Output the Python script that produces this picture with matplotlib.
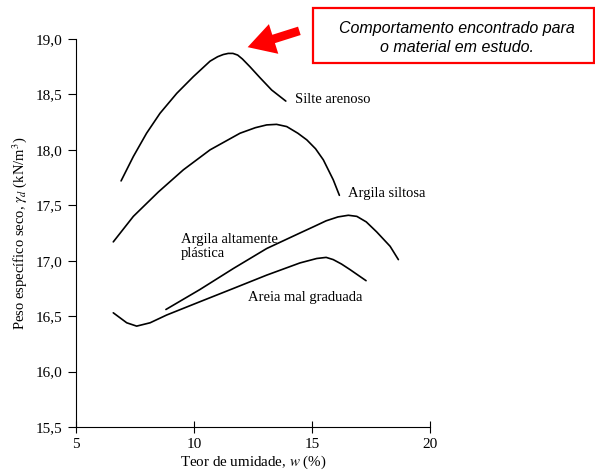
import matplotlib
matplotlib.use("Agg")
import matplotlib.pyplot as plt
from matplotlib.patches import Rectangle, FancyArrowPatch
from matplotlib.ticker import FuncFormatter

plt.rcParams['font.family'] = ['Liberation Serif', 'DejaVu Serif']
plt.rcParams['mathtext.fontset'] = 'stix'

# curves: moisture content w (%) and dry unit weight (kN/m3)
silte_w = [6.91, 7.43, 7.99, 8.56, 9.27, 9.97, 10.68, 11.0, 11.24, 11.45, 11.65, 11.85, 12.05, 12.37, 12.80, 13.29, 13.89]
silte_g = [17.72, 17.94, 18.15, 18.33, 18.51, 18.66, 18.80, 18.84, 18.86, 18.87, 18.87, 18.855, 18.82, 18.75, 18.65, 18.54, 18.44]

siltosa_w = [6.58, 7.43, 8.49, 9.55, 10.68, 11.95, 12.6, 13.08, 13.5, 13.93, 14.4, 14.78, 15.15, 15.48, 15.90, 16.16]
siltosa_g = [17.17, 17.40, 17.62, 17.82, 18.0, 18.15, 18.20, 18.225, 18.23, 18.21, 18.15, 18.09, 18.01, 17.91, 17.73, 17.59]

plast_w = [8.81, 10.25, 11.67, 13.08, 14.49, 15.1, 15.6, 16.1, 16.54, 16.9, 17.3, 17.74, 18.31, 18.66]
plast_g = [16.56, 16.74, 16.93, 17.11, 17.25, 17.31, 17.36, 17.395, 17.41, 17.40, 17.35, 17.26, 17.13, 17.01]

areia_w = [6.58, 7.15, 7.57, 8.14, 8.84, 10.25, 11.67, 13.08, 14.49, 15.2, 15.6, 15.90, 16.25, 16.61, 17.29]
areia_g = [16.53, 16.44, 16.41, 16.44, 16.51, 16.63, 16.75, 16.87, 16.98, 17.02, 17.03, 17.01, 16.97, 16.92, 16.82]

x_ticks = [5, 10, 15, 20]
y_ticks = [15.5, 16.0, 16.5, 17.0, 17.5, 18.0, 18.5, 19.0]

fig = plt.figure(figsize=(5.95, 4.72), dpi=100)
ax = fig.add_axes([76 / 595, 1 - 427 / 472, (430 - 76) / 595, (427 - 39) / 472])

for w, g in [(silte_w, silte_g), (siltosa_w, siltosa_g), (plast_w, plast_g), (areia_w, areia_g)]:
    ax.plot(w, g, color='black', lw=1.2, solid_capstyle='round', solid_joinstyle='round')

ax.set_xlim(5, 20)
ax.set_ylim(15.5, 19.0)
ax.set_xticks(x_ticks)
ax.set_yticks(y_ticks)
ax.yaxis.set_major_formatter(FuncFormatter(lambda v, p: f"{v:.1f}".replace('.', ',')))
ax.spines['top'].set_visible(False)
ax.spines['right'].set_visible(False)
ax.tick_params(axis='y', direction='out', length=6, labelsize=11)
ax.tick_params(axis='x', direction='inout', length=8, labelsize=11, pad=4)

ax.set_xlabel('Teor de umidade, $w$ (%)', fontsize=10.8, labelpad=2)
ax.set_ylabel(r'Peso específico seco, $\gamma_d$ (kN/m$^3$)', fontsize=10.5, labelpad=5)

lab = dict(fontsize=10.5, color='black', va='center', ha='left')
ax.text(14.28, 18.45, 'Silte arenoso', **lab)
ax.text(16.53, 17.61, 'Argila siltosa', **lab)
ax.text(9.45, 17.125, 'Argila altamente\nplástica', linespacing=1.1, **lab)
ax.text(12.29, 16.67, 'Areia mal graduada', **lab)

# red callout
fig.patches.append(Rectangle((313 / 595, 1 - 63 / 472), (594 - 313) / 595, 55 / 472,
                             transform=fig.transFigure, fill=False, ec='red', lw=1.6))
fig.text(457 / 595, 1 - 38 / 472, 'Comportamento encontrado para\no material em estudo.',
         ha='center', va='center', fontsize=11.5, style='italic',
         family=['Liberation Sans', 'DejaVu Sans'], linespacing=1.35)
arrow = FancyArrowPatch((302, 472 - 30), (245, 472 - 48), transform=None,
                        arrowstyle='simple,head_length=1.4,head_width=1.6,tail_width=0.45',
                        mutation_scale=14, color='red', lw=0)
fig.patches.append(arrow)

fig.savefig('out.png', dpi=100)
